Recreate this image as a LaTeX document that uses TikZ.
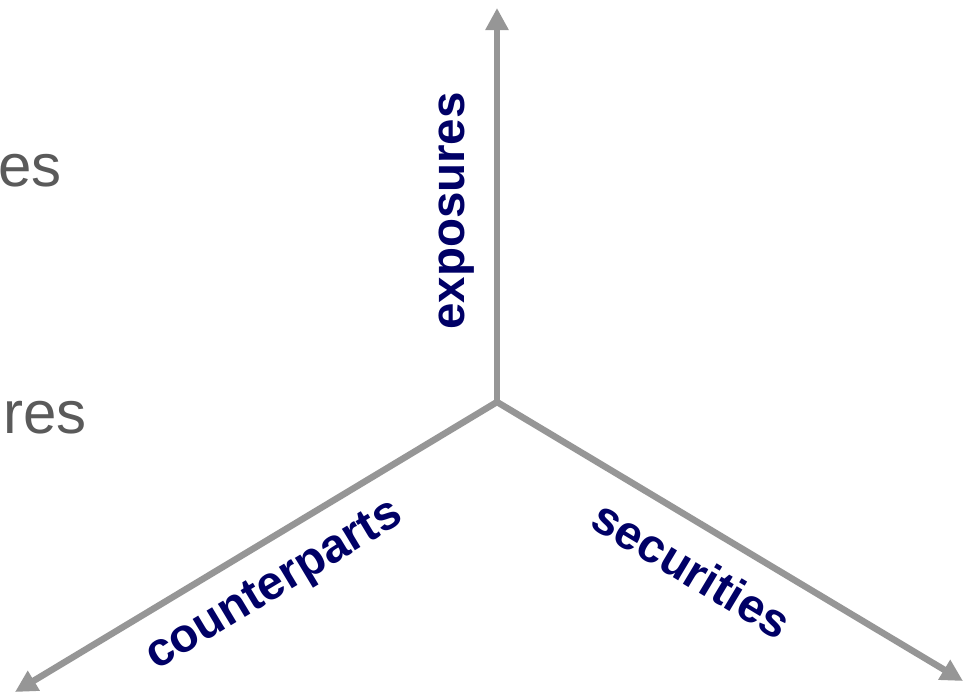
\documentclass[tikz,border=0pt]{standalone}
\usepackage{fontspec}
\setmainfont{Liberation Sans}
\usetikzlibrary{arrows.meta}
\definecolor{axisgray}{RGB}{150,150,150}
\definecolor{textgray}{RGB}{90,90,90}
\definecolor{navy}{RGB}{0,0,102}
\begin{document}
\begin{tikzpicture}[x=1pt,y=-1pt,
  axis/.style={draw=axisgray,line width=6.5pt,-{Triangle[width=22pt,length=22pt]}},
  axislabel/.style={text=navy,font=\fontsize{47.5}{56}\selectfont\bfseries,inner sep=0pt},
  cuttext/.style={text=textgray,font=\fontsize{60}{72}\selectfont,inner sep=0pt}]
\useasboundingbox (0,0) rectangle (965,696);
\coordinate (o) at (497,402);
\coordinate (up) at (497,8);
\coordinate (ll) at (15,692);
\coordinate (lr) at (963,681);
\draw[axis] (o) -- (up);
\draw[axis] (o) -- (ll);
\draw[axis] (o) -- (lr);
\node[axislabel,rotate=90] (exp) at (457,211) {exposures};
\node[axislabel,rotate=31] (cp) at (275,587) {counterparts};
\node[axislabel,rotate=-31] (sec) at (692,569) {securities};
\node[cuttext,anchor=base east] (t1) at (62,186) {es};
\node[cuttext,anchor=base east] (t2) at (87,433) {res};
\end{tikzpicture}
\end{document}
